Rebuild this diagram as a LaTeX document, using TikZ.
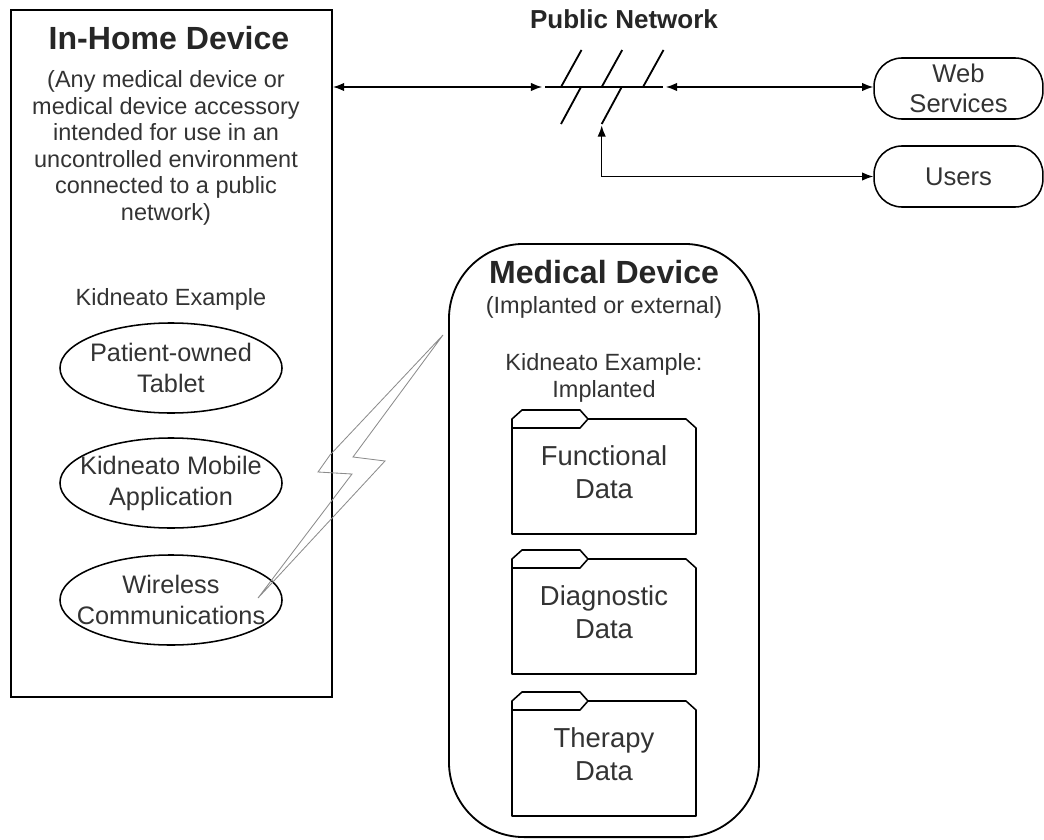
\documentclass[tikz,border=0pt]{standalone}
\usepackage{fontspec}
\setmainfont{Liberation Sans}
\usepackage{tikz}
\usetikzlibrary{arrows.meta,shapes.geometric}

\begin{document}
\begin{tikzpicture}[x=0.025cm,y=-0.025cm,
  box/.style={rectangle,draw,line width=1.3pt,inner sep=0pt},
  title/.style={font=\fontsize{22.8}{26}\selectfont\bfseries,text=black!85,inner sep=0pt},
  note/.style={align=center,font=\fontsize{16.7}{18.8}\selectfont,text=black!80,inner sep=0pt},
  part/.style={ellipse,draw,line width=1.1pt,minimum width=5.55cm,minimum height=2.25cm,inner sep=0pt},
  parttext/.style={align=center,font=\fontsize{18}{22}\selectfont,text=black!80,inner sep=0pt},
  endpoint/.style={rectangle,rounded corners=0.7cm,draw,line width=1.1pt,minimum width=4.22cm,minimum height=1.525cm,align=center,inner sep=0pt,font=\fontsize{18.2}{21.3}\selectfont,text=black!80},
  folder/.style={line width=1.1pt,line join=round},
  foldertext/.style={align=center,font=\fontsize{19.5}{23.5}\selectfont,text=black!80,inner sep=0pt},
  arrow/.style={{Latex[length=8pt,width=6pt]}-{Latex[length=8pt,width=6pt]},line width=1pt},
  net/.style={line width=1.3pt},
  bolt/.style={draw=black!45,line width=0.6pt,line join=miter}
]
\useasboundingbox (0,0) rectangle (1044,840);

% In-Home Device (multi-line texts sit on their last baseline)
\node[box,minimum width=8.025cm,minimum height=17.175cm] (home) at (171.5,353.5) {};
\node[title,anchor=base] (homeTitle) at (169,50) {In-Home Device};
\node[note,anchor=base] (homeNote) at (166,220) {(Any medical device or\\medical device accessory\\intended for use in an\\uncontrolled environment\\connected to a public\\network)};
\node[note,anchor=base] (homeExample) at (171,305) {Kidneato Example};
\node[part,label={[parttext]center:Patient-owned\\Tablet}] (tablet) at (171,368) {};
\node[part,label={[parttext]center:Kidneato Mobile\\Application}] (app) at (171,483) {};
\node[part,label={[parttext]center:Wireless\\Communications}] (wireless) at (171,600) {};

% Medical Device
\node[box,rounded corners=1.875cm,minimum width=7.75cm,minimum height=14.825cm] (md) at (604,540.5) {};
\node[title,anchor=base] (mdTitle) at (604,283) {Medical Device};
\node[note,anchor=base] (mdNote) at (604,313) {(Implanted or external)};
\node[note,anchor=base] (mdExample) at (604,397) {Kidneato Example:\\Implanted};

% data folders
\foreach \name/\top/\txt in {functional/410/Functional,diagnostic/550/Diagnostic,therapy/692/Therapy}{
  \draw[folder] (512,\top+9) -- ++(0,115) -- ++(184,0) -- ++(0,-106) -- ++(-10,-9)
    -- ++(-98,0) -- ++(-8,-9) -- ++(-58,0) -- ++(-10,9) -- cycle;
  \draw[folder] (512,\top+18) -- ++(68,0) -- ++(8,-9);
  \node[foldertext] (\name) at (604,\top+62) {\txt\\Data};
}

% Public Network
\node[title,font=\fontsize{18.5}{22}\selectfont\bfseries,anchor=base] (netTitle) at (624,29) {Public Network};
\coordinate (netL) at (545,87);
\coordinate (netR) at (663,87);
\coordinate (tap) at (601.7,124);
\draw[net] (netL) -- (netR);
\foreach \x in {561,601.7,643} \draw[net] (\x,87) -- ++(20.5,-37);
\foreach \x in {581,621.7} \draw[net] (\x,87) -- ++(-20,37);

\node[endpoint] (web) at (958.5,88.5) {Web\\Services};
\node[endpoint] (users) at (958.5,176.5) {Users};

\draw[arrow,shorten >=2pt] (home.east |- netL) -- (netL);
\draw[arrow,shorten <=2pt] (netR) -- (netR -| web.west);
\draw[arrow,shorten <=1pt] (tap) |- (users.west);

% wireless link
\draw[bolt] (443,335) -- (330,455) -- (318,472) -- (352,474) -- (258,598)
  -- (385,461) -- (353,457) -- cycle;

\end{tikzpicture}
\end{document}
